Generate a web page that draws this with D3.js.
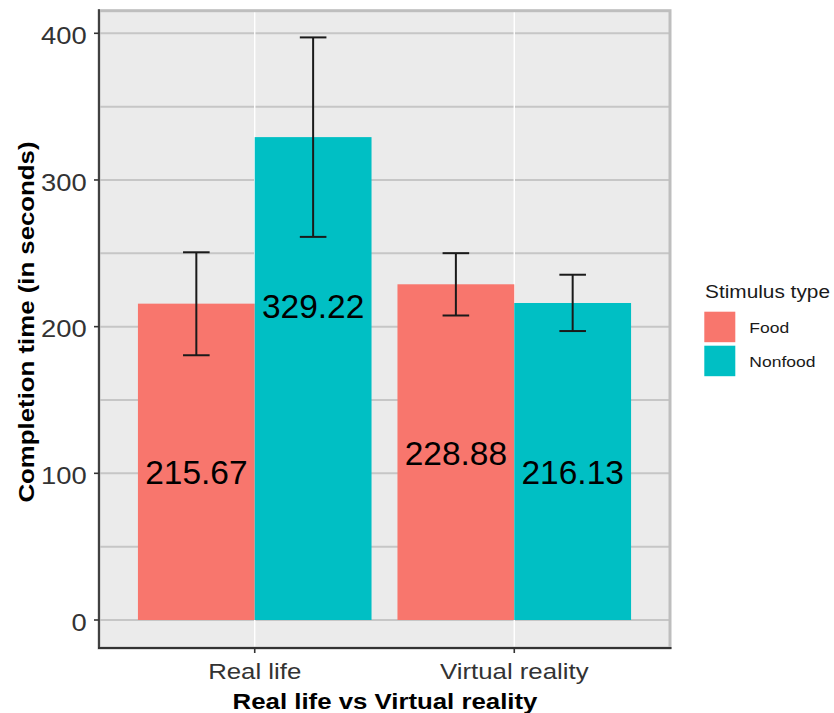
<!DOCTYPE html>
<html>
<head>
<meta charset="utf-8">
<script src="https://cdn.jsdelivr.net/npm/d3@7"></script>
<style>
  html, body { margin: 0; padding: 0; background: #fff; }
  svg { display: block; font-family: "Liberation Sans", Arial, Helvetica, sans-serif; }
</style>
</head>
<body>
<svg id="chart" width="834" height="713"></svg>
<script>
// ---- data ----
const categories = ["Real life", "Virtual reality"];
const series = ["Food", "Nonfood"];
const means = [[215.67, 329.22], [228.88, 216.13]];      // [category][series]
const errLow = [[180.5, 261.2], [207.6, 197.0]];
const errHigh = [[250.7, 397.2], [250.1, 235.4]];
const yTicks = [0, 100, 200, 300, 400];
const yMinor = [50, 150, 250, 350];
const colors = ["#F8766D", "#00BFC4"];
const xTitle = "Real life vs Virtual reality";
const yTitle = "Completion time (in seconds)";
const legendTitle = "Stimulus type";

// ---- layout ----
const svg = d3.select("#chart");
const P = { left: 99, right: 670, top: 10.7, bottom: 648 };

const x = d3.scalePoint().domain(categories).range([P.left, P.right]).padding(0.6);
const step = x.step();
const xs = d3.scaleBand().domain(series).range([-0.45 * step, 0.45 * step]).padding(0);
const y = d3.scaleLinear().domain([0, 400]).range([620, 33.3]);

function txt(g, tx, ty, s, o) {
  const t = g.append("text")
    .attr("transform", `translate(${tx},${ty})${o.rotate ? ` rotate(${o.rotate})` : ""} scale(${o.sx || 1},1)`)
    .attr("text-anchor", o.anchor || "start")
    .attr("font-size", o.size)
    .attr("font-weight", o.weight || "normal")
    .attr("fill", o.fill || "#000")
    .text(s);
  return t;
}

// panel background
svg.append("rect").attr("x", P.left).attr("y", P.top)
  .attr("width", P.right - P.left).attr("height", P.bottom - P.top)
  .attr("fill", "#EBEBEB");

// gridlines
const grid = svg.append("g");
grid.selectAll("line.minor").data(yMinor).join("line")
  .attr("x1", P.left).attr("x2", P.right)
  .attr("y1", d => y(d)).attr("y2", d => y(d))
  .attr("stroke", "#C6C6C6").attr("stroke-width", 2);
grid.selectAll("line.major").data(yTicks).join("line")
  .attr("x1", P.left).attr("x2", P.right)
  .attr("y1", d => y(d)).attr("y2", d => y(d))
  .attr("stroke", "#C6C6C6").attr("stroke-width", 2);
grid.selectAll("line.vx").data(categories).join("line")
  .attr("x1", d => x(d)).attr("x2", d => x(d))
  .attr("y1", P.top).attr("y2", P.bottom)
  .attr("stroke", "#FFFFFF").attr("stroke-width", 1.4);

// bars
const flat = [];
categories.forEach((c, i) => series.forEach((s, j) => flat.push({
  c, s, j, v: means[i][j], lo: errLow[i][j], hi: errHigh[i][j]
})));

svg.append("g").selectAll("rect").data(flat).join("rect")
  .attr("x", d => x(d.c) + xs(d.s))
  .attr("width", xs.bandwidth())
  .attr("y", d => y(d.v))
  .attr("height", d => y(0) - y(d.v))
  .attr("fill", d => colors[d.j]);

// error bars
const eb = svg.append("g").attr("stroke", "#1a1a1a").attr("stroke-width", 2).attr("fill", "none");
const capW = 13.3;
flat.forEach(d => {
  const cx = x(d.c) + xs(d.s) + xs.bandwidth() / 2;
  eb.append("line").attr("x1", cx).attr("x2", cx).attr("y1", y(d.hi)).attr("y2", y(d.lo));
  eb.append("line").attr("x1", cx - capW).attr("x2", cx + capW).attr("y1", y(d.hi)).attr("y2", y(d.hi));
  eb.append("line").attr("x1", cx - capW).attr("x2", cx + capW).attr("y1", y(d.lo)).attr("y2", y(d.lo));
});

// value labels
const lab = svg.append("g");
flat.forEach(d => {
  const cx = x(d.c) + xs(d.s) + xs.bandwidth() / 2;
  txt(lab, cx, y(d.v) + 169 + 11.6, d.v.toFixed(2), { size: 32.5, anchor: "middle", sx: 1.03, fill: "#000" });
});

// panel border (top/right grey), axis lines (left/bottom dark)
svg.append("rect").attr("x", P.left).attr("y", P.top)
  .attr("width", P.right - P.left).attr("height", P.bottom - P.top)
  .attr("fill", "none").attr("stroke", "#BEBEBE").attr("stroke-width", 3);
svg.append("line").attr("x1", P.left).attr("x2", P.left).attr("y1", P.top - 1.5).attr("y2", P.bottom + 1)
  .attr("stroke", "#333").attr("stroke-width", 1.8);
svg.append("line").attr("x1", P.left - 1).attr("x2", P.right + 1.5).attr("y1", P.bottom).attr("y2", P.bottom)
  .attr("stroke", "#333").attr("stroke-width", 1.8);

// y axis ticks & labels
const ya = svg.append("g");
yTicks.forEach(t => {
  ya.append("line").attr("x1", P.left - 5).attr("x2", P.left).attr("y1", y(t)).attr("y2", y(t))
    .attr("stroke", "#333").attr("stroke-width", 1.6);
  txt(ya, 86.7, y(t) + 10.6, String(t), { size: 24, anchor: "end", sx: 1.14, fill: "#333" });
});

// x axis ticks & labels
const xa = svg.append("g");
categories.forEach(c => {
  xa.append("line").attr("x1", x(c)).attr("x2", x(c)).attr("y1", P.bottom).attr("y2", P.bottom + 5)
    .attr("stroke", "#333").attr("stroke-width", 1.6);
  txt(xa, x(c), 678.5, c, { size: 21.5, anchor: "middle", sx: 1.2, fill: "#333" });
});

// axis titles
txt(svg, (P.left + P.right) / 2 + 0.5, 709, xTitle, { size: 21.5, anchor: "middle", weight: "bold", sx: 1.2 });
txt(svg, 34, 322, yTitle, { size: 21.5, anchor: "middle", weight: "bold", sx: 1.2, rotate: -90 });

// legend
const lg = svg.append("g");
txt(lg, 705, 298.3, legendTitle, { size: 18.6, sx: 1.12, fill: "#1a1a1a" });
series.forEach((s, j) => {
  const ky = 311.7 + j * 34;
  lg.append("rect").attr("x", 704.3).attr("y", ky).attr("width", 31).attr("height", 30.5)
    .attr("fill", colors[j]);
  txt(lg, 749.3, ky + 15.5 + 5.4, s, { size: 15.5, sx: 1.13, fill: "#1a1a1a" });
});
</script>
</body>
</html>
